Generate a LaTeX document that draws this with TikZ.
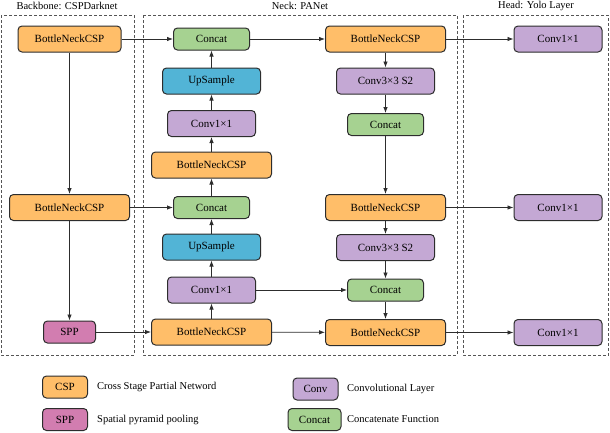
\documentclass[tikz,border=0pt]{standalone}
\usepackage{fontspec}
\setmainfont{Liberation Serif}
\usetikzlibrary{arrows.meta}
\definecolor{cspc}{RGB}{255,190,105}
\definecolor{convc}{RGB}{196,168,212}
\definecolor{upc}{RGB}{82,180,214}
\definecolor{catc}{RGB}{166,210,145}
\definecolor{sppc}{RGB}{210,125,176}
\definecolor{edgec}{RGB}{45,45,45}
\definecolor{dashc}{RGB}{85,85,85}
\tikzset{
  blk/.style={draw=edgec, line width=1pt, rounded corners=4pt, inner sep=0pt, font=\fontsize{11}{12}\selectfont},
  cspbox/.style={blk, fill=cspc, minimum width=120pt, minimum height=26pt},
  bbox/.style={blk, fill=cspc, minimum width=103pt, minimum height=26pt},
  convbox/.style={blk, fill=convc, minimum width=88pt, minimum height=26pt},
  conv3box/.style={blk, fill=convc, minimum width=98pt, minimum height=26pt},
  upbox/.style={blk, fill=upc, minimum width=98pt, minimum height=26pt},
  catbox/.style={blk, fill=catc, minimum width=76pt, minimum height=22pt},
  sppbox/.style={blk, fill=sppc, minimum width=52pt, minimum height=22pt},
  legbox/.style={blk, minimum width=45pt, minimum height=22pt},
  legtxt/.style={anchor=west, inner sep=0pt, font=\fontsize{10.5}{12}\selectfont},
  ttl/.style={inner sep=0pt, font=\fontsize{10.5}{12}\selectfont},
  panel/.style={draw=dashc, line width=0.8pt, dash pattern=on 3pt off 2pt},
  arr/.style={draw=edgec, line width=0.8pt, -{Latex[length=6pt,width=4.5pt]}},
  ln/.style={draw=edgec, line width=0.8pt}
}
\begin{document}
\begin{tikzpicture}[x=1pt,y=-1pt]
\useasboundingbox (0,0) rectangle (610,432);
% panels
\draw[panel] (1,15) rectangle (134,355);
\draw[panel] (143,15) rectangle (457,355);
\draw[panel] (463,15) rectangle (608.5,355);
\node[ttl] (t1) at (67,6) {Backbone: CSPDarknet};
\node[ttl] (t2) at (300,6) {Neck: PANet};
\node[ttl] (t3) at (536,6) {Head: Yolo Layer};
% backbone
\node[bbox] (b1) at (69.5,39) {BottleNeckCSP};
\node[cspbox] (b2) at (69.5,207.5) {BottleNeckCSP};
\node[sppbox] (spp) at (69.5,332) {SPP};
% neck left
\node[catbox] (c1) at (211.5,39) {Concat};
\node[upbox] (u1) at (211.5,81) {UpSample};
\node[convbox] (v1) at (211.5,123.5) {Conv1×1};
\node[cspbox] (n1) at (211.5,165) {BottleNeckCSP};
\node[catbox] (c2) at (211.5,207.5) {Concat};
\node[upbox] (u2) at (211.5,247) {UpSample};
\node[convbox] (v2) at (211.5,290) {Conv1×1};
\node[cspbox] (n2) at (211.5,332) {BottleNeckCSP};
% neck right
\node[cspbox] (r1) at (385.5,39) {BottleNeckCSP};
\node[conv3box] (s1) at (385.5,81) {Conv3×3 S2};
\node[catbox] (c3) at (385.5,124.5) {Concat};
\node[cspbox] (r2) at (385.5,207.5) {BottleNeckCSP};
\node[conv3box] (s2) at (385.5,247.5) {Conv3×3 S2};
\node[catbox] (c4) at (385.5,290) {Concat};
\node[cspbox] (r3) at (385.5,332.5) {BottleNeckCSP};
% head
\node[convbox] (h1) at (558,39) {Conv1×1};
\node[convbox] (h2) at (558,207.5) {Conv1×1};
\node[convbox] (h3) at (558,332.5) {Conv1×1};
% edges
\draw[arr] (b1) -- (c1);
\draw[arr] (b1) -- (b2);
\draw[arr] (b2) -- (spp);
\draw[arr] (b2) -- (c2);
\draw[arr] (spp) -- (n2);
\draw[arr] (n2) -- (v2);
\draw[arr] (v2) -- (u2);
\draw[arr] (u2) -- (c2);
\draw[arr] (c2) -- (n1);
\draw[arr] (n1) -- (v1);
\draw[arr] (v1) -- (u1);
\draw[arr] (u1) -- (c1);
\draw[arr] (c1) -- (r1);
\draw[arr] (r1) -- (h1);
\draw[arr] (r1) -- (s1);
\draw[arr] (s1) -- (c3);
\draw[arr] (c3) -- (r2);
\draw[arr] (r2) -- (h2);
\draw[arr] (r2) -- (s2);
\draw[arr] (s2) -- (c4);
\draw[arr] (v2) -- (c4);
\draw[arr] (c4) -- (r3);
\draw[arr] (n2) -- (r3);
\draw[arr] (r3) -- (h3);
% legend
\node[legbox, fill=cspc] (l1) at (65,387) {CSP};
\node[legtxt] (l1t) at (97,387) {Cross Stage Partial Netword};
\node[legbox, fill=sppc] (l2) at (65,419.5) {SPP};
\node[legtxt] (l2t) at (97,419.5) {Spatial pyramid pooling};
\node[legbox, fill=convc] (l3) at (315.5,389) {Conv};
\node[legtxt] (l3t) at (347,389) {Convolutional Layer};
\node[legbox, fill=catc, minimum width=53pt] (l4) at (314.5,419.5) {Concat};
\node[legtxt] (l4t) at (347,419.5) {Concatenate Function};
\end{tikzpicture}
\end{document}
